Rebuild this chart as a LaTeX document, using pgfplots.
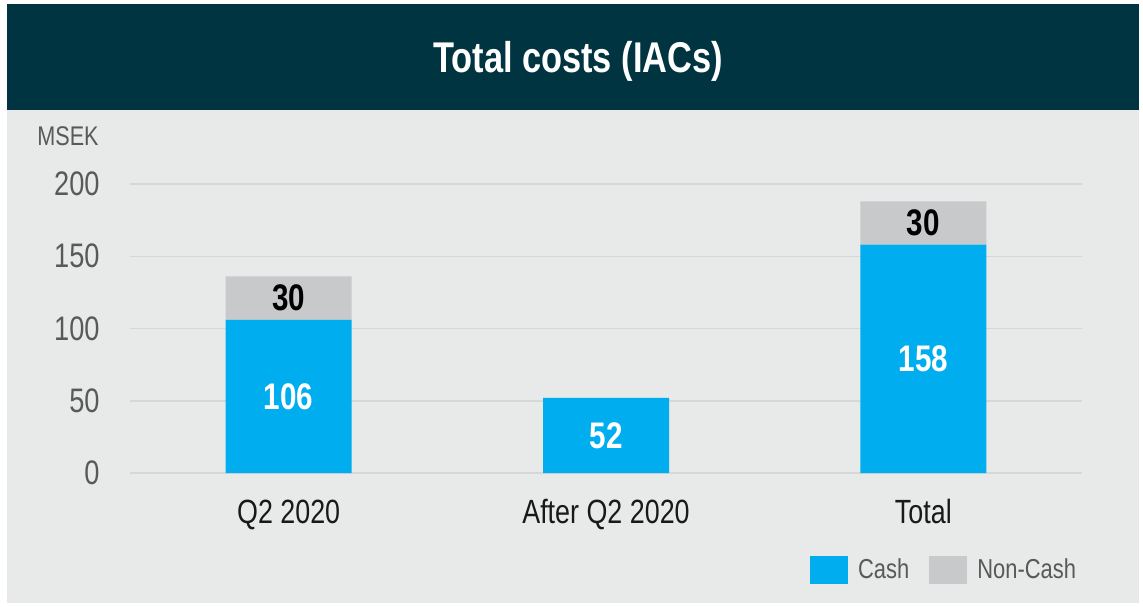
\documentclass[border=0pt]{standalone}
\usepackage{pgfplots}
\pgfplotsset{compat=1.18}
\usepackage{fontspec}
\setmainfont{Liberation Sans}[FakeStretch=0.8]
\definecolor{hdr}{HTML}{003441}
\definecolor{bg}{HTML}{E8E9E9}
\definecolor{cash}{HTML}{00AEEF}
\definecolor{noncash}{HTML}{C8C9CB}
\definecolor{gridc}{HTML}{D6D7D7}
\definecolor{lbl}{HTML}{595959}
\pgfplotsset{sqlegend/.style={legend image code/.code={\fill[##1] (0pt,-7pt) rectangle (19pt,7pt);}}}
\begin{document}
\begin{tikzpicture}
% background and header band
\fill[white] (0,0) rectangle (571.5pt,-303pt);
\fill[bg] (3.5pt,-2pt) rectangle (569.5pt,-301.5pt);
\fill[hdr] (3.5pt,-2pt) rectangle (569.5pt,-55pt);
\node[white, font=\fontsize{21.5}{24}\selectfont\bfseries] at (289pt,-30.5pt) {Total costs (IACs)};
\node[lbl, anchor=west, inner sep=0pt, font=\fontsize{13.5}{15}\selectfont] at (18.5pt,-68pt) {MSEK};
\begin{axis}[
  at={(65pt,-236.5pt)}, anchor=south west,
  width=476pt, height=144.5pt, scale only axis,
  ybar stacked, bar width=63pt,
  xmin=-0.5, xmax=2.5, ymin=0, ymax=200,
  xtick={0,1,2}, xticklabels={Q2 2020, After Q2 2020, Total},
  ytick={0,50,100,150,200},
  ymajorgrids, major grid style={gridc, line width=0.75pt},
  axis line style={draw=none}, tick style={draw=none},
  /pgf/number format/assume math mode=true,
  yticklabel style={anchor=east, inner sep=0pt, xshift=-15pt, text=lbl, font=\fontsize{17}{20}\selectfont},
  xticklabel style={anchor=base, inner sep=0pt, yshift=-25pt, text=black!90, font=\fontsize{16.8}{20}\selectfont},
  legend columns=2,
  legend style={draw=none, fill=none, at={(0.714,-0.3356)}, anchor=west, inner sep=0pt,
    font=\fontsize{13.7}{16}\selectfont, text=lbl,
    nodes={inner sep=0pt, anchor=west},
    /tikz/every odd column/.append style={column sep=5pt},
    /tikz/every even column/.append style={column sep=10pt}},
  nodes near coords={\pgfmathfloatifflags{\pgfplotspointmeta}{0}{}{\pgfmathprintnumber{\pgfplotspointmeta}}},
  point meta=explicit,
]
\addplot[fill=cash, draw=none, sqlegend,
  every node near coord/.append style={text=white, font=\fontsize{18.5}{20}\selectfont\bfseries, anchor=center}]
  coordinates {(0,106) [106] (1,52) [52] (2,158) [158]};
\addplot[fill=noncash, draw=none, sqlegend,
  every node near coord/.append style={text=black, font=\fontsize{18.5}{20}\selectfont\bfseries, anchor=center}]
  coordinates {(0,30) [30] (1,0) [0] (2,30) [30]};
\legend{Cash, Non-Cash}
\end{axis}
\end{tikzpicture}
\end{document}
